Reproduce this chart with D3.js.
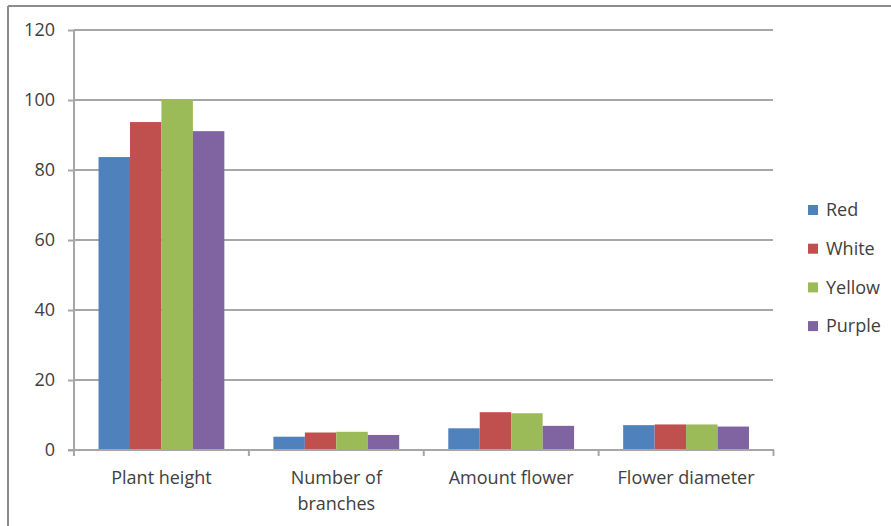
<!DOCTYPE html>
<html>
<head>
<meta charset="utf-8">
<script src="https://cdn.jsdelivr.net/npm/d3@7"></script>
<style>
  body { margin: 0; background: #fff; }
  text { font-family: "Open Sans", sans-serif; fill: #404040; }
</style>
</head>
<body>
<div id="graph"></div>
<script>
var categories = ["Plant height", "Number of branches", "Amount flower", "Flower diameter"];
var seriesNames = ["Red", "White", "Yellow", "Purple"];
var seriesColors = ["#4F81BD", "#C0504D", "#9BBB59", "#8064A2"];
var red = [83.7, 3.8, 6.2, 7.1];
var white = [93.7, 5.0, 10.8, 7.3];
var yellow = [100, 5.2, 10.5, 7.3];
var purple = [91.1, 4.3, 6.9, 6.7];
var yTicks = [0, 20, 40, 60, 80, 100, 120];

var seriesValues = [red, white, yellow, purple];
var width = 891, height = 526;
var margin = { top: 30, left: 74, bottom: 76, right: 118 };

var svg = d3.select("#graph").append("svg")
  .attr("width", width).attr("height", height);

// outer chart frame (only top and left edges visible)
svg.append("line").attr("x1", 8).attr("x2", width).attr("y1", 6).attr("y2", 6)
  .attr("stroke", "#8c8c8c").attr("stroke-width", 2);
svg.append("line").attr("x1", 8).attr("x2", 8).attr("y1", 6).attr("y2", height)
  .attr("stroke", "#8c8c8c").attr("stroke-width", 2);

var xScale = d3.scaleBand().domain(categories)
  .range([margin.left, width - margin.right + 0.5]).padding(0);
var x1 = d3.scaleBand().domain(seriesNames)
  .range([0, xScale.bandwidth()]).paddingOuter(0.78).paddingInner(0);
var yScale = d3.scaleLinear().domain([0, 120]).range([height - margin.bottom, margin.top]);

var chartLeft = margin.left, chartRight = width - margin.right;

// gridlines
svg.append("g").selectAll("line").data(yTicks.slice(1)).enter().append("line")
  .attr("x1", chartLeft).attr("x2", chartRight)
  .attr("y1", function(d) { return yScale(d); })
  .attr("y2", function(d) { return yScale(d); })
  .attr("stroke", "#a6a6a6").attr("stroke-width", 2);

// bars
var groups = svg.append("g").selectAll("g").data(categories).enter().append("g")
  .attr("transform", function(d) { return "translate(" + xScale(d) + ",0)"; });
groups.selectAll("rect")
  .data(function(d, i) {
    return seriesNames.map(function(s, j) { return { s: s, v: seriesValues[j][i], c: seriesColors[j] }; });
  })
  .enter().append("rect")
  .attr("x", function(d) { return x1(d.s); })
  .attr("width", x1.bandwidth())
  .attr("y", function(d) { return yScale(d.v); })
  .attr("height", function(d) { return yScale(0) - yScale(d.v); })
  .attr("fill", function(d) { return d.c; });

// y axis
var yAxis = svg.append("g")
  .attr("transform", "translate(" + chartLeft + ",0)")
  .call(d3.axisLeft(yScale).tickValues(yTicks).tickSize(6).tickPadding(13));
yAxis.select(".domain").attr("stroke", "#a6a6a6").attr("stroke-width", 2)
  .attr("d", "M0," + yScale(120) + "V" + (yScale(0) + 6));
yAxis.selectAll(".tick line").attr("stroke", "#a6a6a6").attr("stroke-width", 2);
yAxis.selectAll(".tick text").style("font-size", "18px").attr("fill", "#404040");

// x axis
var xAxisG = svg.append("g");
xAxisG.append("line").attr("x1", chartLeft - 6).attr("x2", chartRight + 1)
  .attr("y1", yScale(0)).attr("y2", yScale(0))
  .attr("stroke", "#a6a6a6").attr("stroke-width", 2);
var bounds = categories.map(function(c) { return xScale(c); }).concat([xScale.range()[1]]);
xAxisG.selectAll(".xt").data(bounds).enter().append("line")
  .attr("x1", function(d) { return d; }).attr("x2", function(d) { return d; })
  .attr("y1", yScale(0)).attr("y2", yScale(0) + 6)
  .attr("stroke", "#a6a6a6").attr("stroke-width", 2);

var labels = { "Number of branches": ["Number of", "branches"] };
xAxisG.selectAll(".xl").data(categories).enter().append("text")
  .attr("text-anchor", "middle")
  .style("font-size", "18px")
  .attr("x", function(d) { return xScale(d) + xScale.bandwidth() / 2; })
  .attr("y", yScale(0) + 34)
  .each(function(d) {
    var lines = labels[d] || [d];
    var t = d3.select(this);
    lines.forEach(function(l, i) {
      t.append("tspan").attr("x", xScale(d) + xScale.bandwidth() / 2)
        .attr("dy", i === 0 ? 0 : 26).text(l);
    });
  });

// legend
var legend = svg.append("g").selectAll("g").data(seriesNames).enter().append("g")
  .attr("transform", function(d, i) { return "translate(808," + (210 + i * 38.7) + ")"; });
legend.append("rect").attr("x", 0).attr("y", -5).attr("width", 10).attr("height", 10)
  .attr("fill", function(d, i) { return seriesColors[i]; });
legend.append("text").attr("x", 18).attr("dy", "0.35em")
  .style("font-size", "18px").text(function(d) { return d; });
</script>
</body>
</html>
